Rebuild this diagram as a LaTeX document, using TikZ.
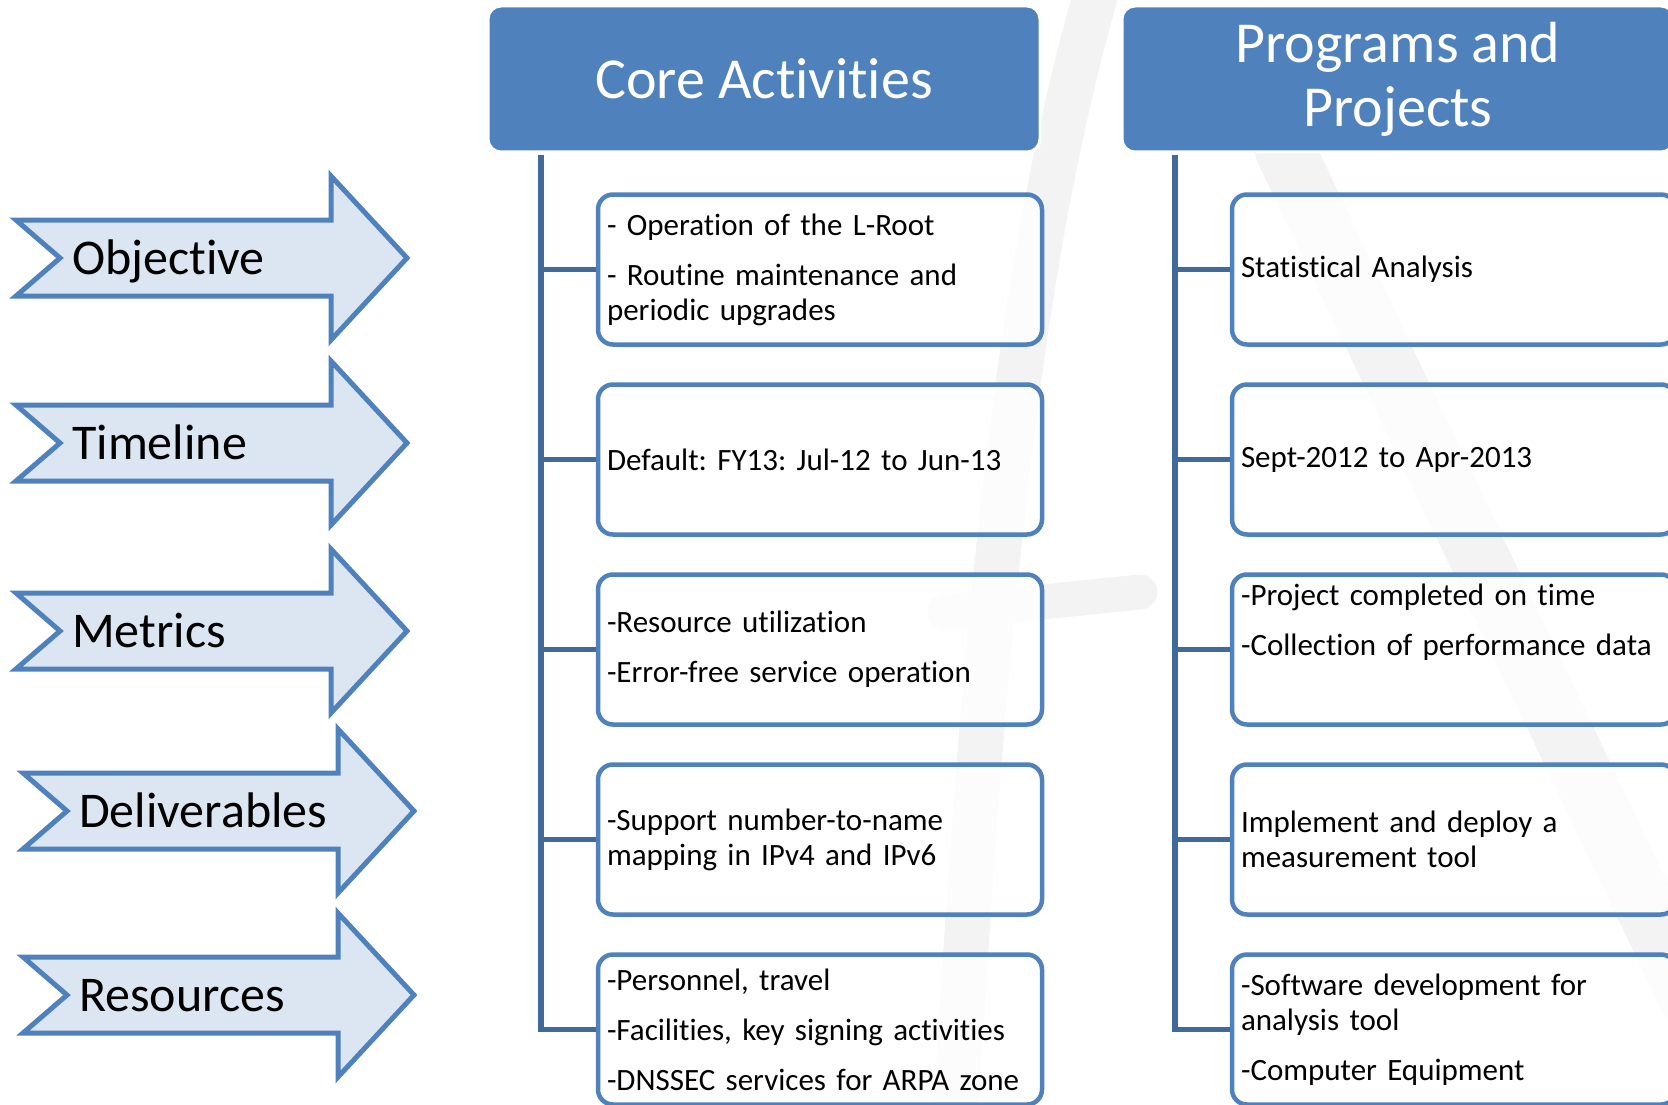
\documentclass[tikz,border=0pt]{standalone}
\usepackage{fontspec}
\setmainfont[Ligatures=NoCommon]{Carlito}
\usepackage{tikz}
\usetikzlibrary{positioning}
\definecolor{hdrblue}{HTML}{4F81BD}
\definecolor{trunkblue}{HTML}{41699A}
\definecolor{arrowfill}{HTML}{DCE6F2}
\definecolor{wmgray}{HTML}{F3F3F3}
\frenchspacing

\begin{document}
\begin{tikzpicture}
	[x=1pt, y=-1pt, node distance=35.5pt,
	header/.style={rectangle, rounded corners=13pt, fill=hdrblue, draw=white,
		line width=3pt, minimum width=552pt, minimum height=146pt,
		text=white, align=center, font=\fontsize{58}{64}\selectfont},
	item/.style={rectangle, rounded corners=15pt, draw=hdrblue, line width=4.5pt,
		fill=white, fill opacity=0.8, text opacity=1,
		minimum width=444pt, minimum height=150pt, text width=426pt,
		inner xsep=9pt, align=left, font=\fontsize{31}{35}\selectfont},
	trunk/.style={draw=trunkblue, line width=5.5pt},
	arrowshape/.style={draw=hdrblue, fill=arrowfill, line width=5pt},
	tagtext/.style={anchor=base west, inner sep=0pt, font=\fontsize{50}{55}\selectfont},
	watermark/.style={draw=wmgray, line width=45pt, line cap=round},
	]
	\useasboundingbox (0,0) rectangle (1668,1105);
	
	% faint logo behind
	\draw[watermark] (955,1130) .. controls (985,600) and (1020,250) .. (1100,-20);
	\draw[watermark, line width=60pt] (1285,150) -- (1690,1000);
	\draw[watermark, line width=35pt] (945,612) -- (1140,592);
	
	% left arrows
	\foreach \yc/\dx/\name/\txt in {258/0/obj/Objective, 443/0/time/Timeline,
		631/0/met/Metrics, 811/7/del/Deliverables, 995/7/res/Resources}
	{
		\draw[arrowshape] (60+\dx,\yc) -- ++(-44,-38) -- ++(315,0) -- ++(0,-44)
			-- ++(76,82) -- ++(-76,82) -- ++(0,-44) -- ++(-315,0) -- cycle;
		\node[tagtext] (\name) at (72+\dx,\yc+16) {\txt};
	}
	
	% headers
	\node[header] (core) at (764,79) {Core Activities};
	\node[header] (prog) at (1398,79) {Programs and\\Projects};
	
	% core activities
	\node[item] (c1) at (820,269.5) {- Operation of the L-Root\\[15pt]- Routine maintenance and\\periodic upgrades};
	\node[item, below=of c1] (c2) {Default: FY13: Jul-12 to Jun-13};
	\node[item, below=of c2] (c3) {-Resource utilization\\[15pt]-Error-free service operation};
	\node[item, below=of c3] (c4) {-Support number-to-name\\mapping in IPv4 and IPv6};
	\node[item, below=of c4] (c5) {-Personnel, travel\\[15pt]-Facilities, key signing activities\\[15pt]-DNSSEC services for ARPA zone};
	
	% programs and projects
	\node[item] (p1) at (1454,269.5) {Statistical Analysis};
	\node[item, below=of p1] (p2) {Sept-2012 to Apr-2013};
	\node[item, below=of p2] (p3) {-Project completed on time\\[15pt]-Collection of performance data\\[15pt]\strut};
	\node[item, below=of p3] (p4) {Implement and deploy a\\measurement tool};
	\node[item, below=of p4] (p5) {-Software development for\\analysis tool\\[15pt]-Computer Equipment};
	
	% connectors
	\coordinate (ctop) at ([xshift=54.5pt,yshift=-1.5pt]core.south west);
	\coordinate (ptop) at ([xshift=54.5pt,yshift=-1.5pt]prog.south west);
	\draw[trunk] (ctop) |- (c5.west);
	\draw[trunk] (ptop) |- (p5.west);
	\foreach \n in {1,2,3,4}
	{
		\draw[trunk] (ctop |- c\n.west) -- (c\n.west);
		\draw[trunk] (ptop |- p\n.west) -- (p\n.west);
	}
	
\end{tikzpicture}
\end{document}
